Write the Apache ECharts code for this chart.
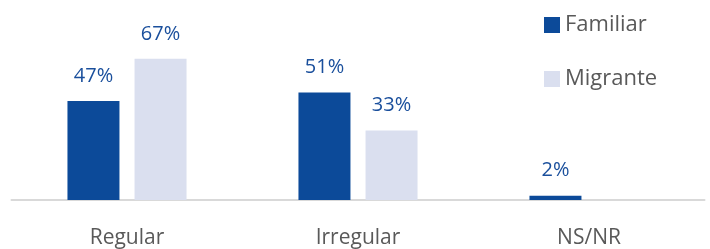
<!DOCTYPE html>
<html>
<head>
<meta charset="utf-8">
<script src="https://cdn.jsdelivr.net/npm/echarts@6/dist/echarts.min.js"></script>
<style>
  html, body { margin: 0; padding: 0; background: #fff; }
  #chart { width: 710px; height: 249px; }
</style>
</head>
<body>
<div id="chart"></div>
<script>
const categories = ["Regular", "Irregular", "NS/NR"];
const familiar = [47, 51, 2];
const migrante = [67, 33, null];
const colors = ["#0c4a99", "#dadfef"];

const chart = echarts.init(document.getElementById("chart"));
const labelStyle = {
  show: true,
  position: "top",
  distance: 15,
  color: "#1a4f9c",
  fontSize: 20,
  fontFamily: "Open Sans",
  formatter: "{c}%",
};
chart.setOption({
  animation: false,
  color: colors,
  grid: { left: 11.5, right: 5.5, top: 31.4, bottom: 48 },
  legend: {
    orient: "vertical",
    left: 539,
    top: 9,
    itemWidth: 16,
    itemHeight: 16,
    itemGap: 32,
    icon: "rect",
    textStyle: { color: "#595959", fontSize: 22, fontFamily: "Open Sans" },
    data: ["Familiar", "Migrante"],
  },
  xAxis: {
    type: "category",
    data: categories,
    axisLine: { lineStyle: { color: "#d9d9d9", width: 2 } },
    axisTick: { show: false },
    axisLabel: { color: "#595959", fontSize: 21, fontFamily: "Open Sans", margin: 28 },
  },
  yAxis: {
    type: "value",
    min: 0,
    max: 80,
    show: false,
    splitLine: { show: false },
  },
  series: [
    {
      name: "Familiar",
      type: "bar",
      barWidth: 52,
      barGap: "29%",
      data: familiar,
      label: labelStyle,
    },
    {
      name: "Migrante",
      type: "bar",
      barWidth: 52,
      data: migrante,
      label: labelStyle,
    },
  ],
});
</script>
</body>
</html>
